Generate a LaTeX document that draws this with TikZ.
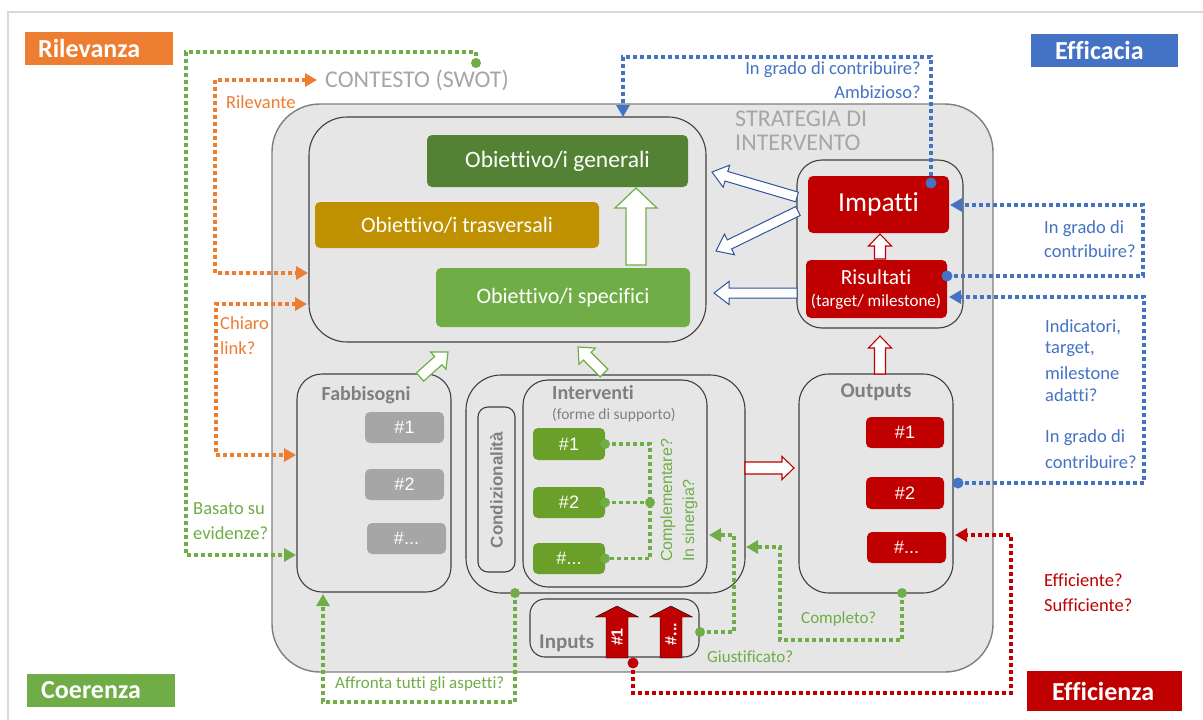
\documentclass[tikz,border=0pt]{standalone}
\usepackage{fontspec}
\setmainfont{Carlito}[Ligatures=NoCommon]
\newfontfamily\arialf{Liberation Sans}
\usetikzlibrary{arrows.meta,calc}
\definecolor{cor}{HTML}{ED7D31}
\definecolor{cbl}{HTML}{4472C4}
\definecolor{cgr}{HTML}{70AD47}
\definecolor{crd}{HTML}{C00000}
\definecolor{cdg}{HTML}{548235}
\definecolor{cgold}{HTML}{BF9000}
\definecolor{cig}{HTML}{6A9F2A}
\definecolor{cbg}{HTML}{E6E6E6}
\definecolor{cbox}{HTML}{A6A6A6}
\definecolor{ctit}{HTML}{7F7F7F}
\definecolor{clt}{HTML}{A6A6A6}
\definecolor{cedge}{HTML}{404040}
\definecolor{cnavy}{HTML}{2F5597}
\definecolor{cframe}{HTML}{D9D9D9}
\newcommand\fsz[1]{\fontsize{#1}{#1}\selectfont}
\newcommand\bx[7]{%
 \pgfmathsetmacro\bxw{#4-#2}\pgfmathsetmacro\bxh{#5-#3}%
 \pgfmathsetmacro\bxx{(#2+#4)/2}\pgfmathsetmacro\bxy{(#3+#5)/2}%
 \node[inner sep=0pt, outer sep=0pt, minimum width=\bxw pt, minimum height=\bxh pt, #6] (#1) at (\bxx,\bxy) {#7};}
\newcommand\barrow[6]{%
 \coordinate (bab) at ($(#3)!#6!(#2)$);
 \draw[#1] ($(#2)!#4!90:(#3)$) -- ($(bab)!#4!90:(#3)$) -- ($(bab)!#5!90:(#3)$) -- (#3) -- ($(bab)!#5!-90:(#3)$) -- ($(bab)!#4!-90:(#3)$) -- ($(#2)!#4!-90:(#3)$) -- cycle;}
\begin{document}
\begin{tikzpicture}[x=1pt,y=-1pt,
 dotl/.style={line width=3.6pt, dash pattern=on 3.6pt off 3.4pt},
 endtip/.style={-{Triangle[length=12pt,width=13pt]}},
 bothtips/.style={{Triangle[length=12pt,width=13pt]}-{Triangle[length=12pt,width=13pt]}},
 cont/.style={draw=cedge, line width=1.1pt},
 cbx/.style={rounded corners=5pt, text=white},
 lab/.style={text=white, font=\bfseries\fsz{26}, inner sep=0pt, anchor=west},
 ann/.style={inner sep=0pt, font=\fsz{18.5}},
 sml/.style={inner sep=0pt, font=\fsz{17}},
 ttl/.style={inner sep=0pt, text=ctit, font=\bfseries\fsz{20}},
 num/.style={font=\arialf\fsz{18}},
]
\useasboundingbox (0,0) rectangle (1203,720);
\fill[white] (0,0) rectangle (1203,720);
\draw[cframe, line width=2pt] (8,720) -- (8,12) -- (1203,12);

% category labels
\bx{ril}{25}{32}{173}{65}{fill=cor}{}
\bx{eff}{1031}{34}{1178}{67}{fill=cbl}{}
\bx{coe}{27}{674}{175}{707}{fill=cgr}{}
\bx{efz}{1027}{671}{1182}{711}{fill=crd}{}
\node[lab] (rilt) at (38,48.5) {Rilevanza};
\node[lab] (efft) at (1055,50.5) {Efficacia};
\node[lab] (coet) at (41,690.5) {Coerenza};
\node[lab] (efzt) at (1052,691) {Efficienza};

% main strategy box
\bx{strat}{272}{104}{993}{672}{draw=ctit, line width=1.4pt, fill=cbg, rounded corners=48pt}{}
\node[inner sep=0pt, anchor=west, text=clt, font=\fsz{24}] (ctx) at (325,80) {CONTESTO (SWOT)};
\node[inner sep=0pt, anchor=west, text=clt, font=\fsz{24}] (st1) at (735,119) {STRATEGIA DI};
\node[inner sep=0pt, anchor=west, text=clt, font=\fsz{24}] (st2) at (735,143) {INTERVENTO};

% objectives
\bx{objc}{309}{117}{706}{342}{cont, rounded corners=38pt}{}
\bx{gen}{427}{135}{688}{187}{fill=cdg, cbx, font=\fsz{23.5}}{Obiettivo/i generali}
\bx{tras}{315}{202}{599}{248}{fill=cgold, cbx, font=\fsz{22}}{Obiettivo/i trasversali}
\bx{spec}{436}{268}{690}{327}{fill=cgr, cbx, font=\fsz{22}}{Obiettivo/i specifici}

% impacts / results
\bx{imc}{797}{160}{963}{328}{cont, rounded corners=25pt}{}
\bx{imp}{808}{176}{949}{233}{fill=crd, cbx, font=\fsz{27.5}}{Impatti}
\bx{ris}{806}{260}{947}{318}{fill=crd, rounded corners=5pt}{}
\node[inner sep=0pt, text=white, font=\fsz{21.5}] (rist1) at (876,277) {Risultati};
\node[inner sep=0pt, text=white, font=\fsz{17}] (rist2) at (876,302) {(target/ milestone)};

% needs
\bx{fab}{297}{374}{451}{592}{cont, rounded corners=25pt}{}
\node[ttl] (fabt) at (366,395) {Fabbisogni};
\bx{f1}{365}{412}{444}{443}{fill=cbox, cbx, num}{\#1}
\bx{f2}{365}{469}{444}{500}{fill=cbox, cbx, num}{\#2}
\bx{f3}{367}{523}{446}{554}{fill=cbox, cbx, num}{\#...}

% interventions
\bx{intc}{466}{375}{745}{593}{cont, rounded corners=35pt}{}
\bx{cond}{478}{407}{515}{572}{cont, rounded corners=10pt}{}
\node[rotate=90, inner sep=0pt, text=ctit, font=\arialf\bfseries\fsz{17}] (condt) at (496.5,490) {Condizionalità};
\bx{intv}{523}{380}{707}{587}{cont, rounded corners=25pt}{}
\node[ttl, anchor=west] (intt) at (552,393) {Interventi};
\node[inner sep=0pt, anchor=west, text=ctit, font=\fsz{15.5}] (intt2) at (552,415) {(forme di supporto)};
\bx{i1}{533}{428}{605}{460}{fill=cig, cbx, num}{\#1}
\bx{i2}{533}{487}{605}{518}{fill=cig, cbx, num}{\#2}
\bx{i3}{533}{543}{605}{574}{fill=cig, cbx, num}{\#...}
\node[rotate=90, anchor=west, inner sep=0pt, text=cgr, font=\arialf\fsz{16}] (compl) at (668,562) {Complementare?};
\node[rotate=90, anchor=west, inner sep=0pt, text=cgr, font=\arialf\fsz{16}] (siner) at (690,562) {In sinergia?};

% inputs
\bx{inp}{530}{599}{699}{657}{cont, rounded corners=15pt}{}
\node[ttl, anchor=west, font=\bfseries\fsz{21}] (inpt) at (539,643) {Inputs};
\coordinate (b1t) at (617,658); \coordinate (b1h) at (617,606);
\coordinate (b2t) at (671,658); \coordinate (b2h) at (671,606);
\barrow{fill=crd}{b1t}{b1h}{11pt}{21.5pt}{11pt}
\barrow{fill=crd}{b2t}{b2h}{11pt}{21.5pt}{11pt}
\node[rotate=90, text=white, inner sep=0pt, font=\arialf\bfseries\fsz{16}] (in1) at (617,637) {\#1};
\node[rotate=90, text=white, inner sep=0pt, font=\arialf\bfseries\fsz{16}] (in2) at (671,634) {\#...};

% outputs
\bx{out}{799}{374}{953}{593}{cont, rounded corners=30pt}{}
\node[ttl, font=\bfseries\fsz{21}] (outt) at (876,392) {Outputs};
\bx{o1}{866}{417}{944}{448}{fill=crd, cbx, num}{\#1}
\bx{o2}{866}{477}{944}{509}{fill=crd, cbx, num}{\#2}
\bx{o3}{867}{532}{946}{563}{fill=crd, cbx, num}{\#...}

% block arrows
\coordinate (a1t) at (636,265); \coordinate (a1h) at (636,188);
\barrow{draw=cgr, fill=white, line width=1.2pt}{a1t}{a1h}{10pt}{21pt}{20pt}
\coordinate (a2t) at (420,377); \coordinate (a2h) at (448,352);
\barrow{draw=cgr, fill=white, line width=1.2pt}{a2t}{a2h}{5.5pt}{11.5pt}{13pt}
\coordinate (a3t) at (604,373); \coordinate (a3h) at (578,347);
\barrow{draw=cgr, fill=white, line width=1.2pt}{a3t}{a3h}{5.5pt}{11.5pt}{13pt}
\coordinate (a4t) at (745,468); \coordinate (a4h) at (794,468);
\barrow{draw=crd, fill=white, line width=1.1pt}{a4t}{a4h}{6pt}{11.5pt}{12pt}
\coordinate (a5t) at (880,259); \coordinate (a5h) at (880,234);
\barrow{draw=crd, fill=white, line width=1.1pt}{a5t}{a5h}{5.5pt}{11.5pt}{12pt}
\coordinate (a6t) at (880,374); \coordinate (a6h) at (880,336);
\barrow{draw=crd, fill=white, line width=1.1pt}{a6t}{a6h}{5.5pt}{11.5pt}{12pt}
\coordinate (a7t) at (797,197); \coordinate (a7h) at (712,172);
\barrow{draw=cnavy, fill=white, line width=1pt}{a7t}{a7h}{5pt}{11.5pt}{15pt}
\coordinate (a8t) at (798,211); \coordinate (a8h) at (716,251);
\barrow{draw=cnavy, fill=white, line width=1pt}{a8t}{a8h}{5pt}{11.5pt}{15pt}
\coordinate (a9t) at (797,293); \coordinate (a9h) at (714,293);
\barrow{draw=cnavy, fill=white, line width=1pt}{a9t}{a9h}{5pt}{11.5pt}{15pt}

% annotations
\node[ann, anchor=west, text=cor] (rlv) at (226,102) {Rilevante};
\node[ann, anchor=west, text=cor] (chi1) at (220,323) {Chiaro};
\node[ann, anchor=west, text=cor] (chi2) at (220,348) {link?};
\node[ann, anchor=west, text=cgr] (bas1) at (193,509) {Basato su};
\node[ann, anchor=west, text=cgr] (bas2) at (193,533) {evidenze?};
\node[sml, anchor=west, text=cgr] (aff) at (335,684) {Affronta tutti gli aspetti?};
\node[sml, anchor=west, text=cgr] (giu) at (707,657) {Giustificato?};
\node[sml, anchor=west, text=cgr] (cmp) at (801,619) {Completo?};
\node[ann, anchor=west, text=crd] (ef1) at (1044,580) {Efficiente?};
\node[ann, anchor=west, text=crd] (ef2) at (1044,605) {Sufficiente?};
\node[ann, anchor=east, text=cbl] (ig1) at (921,70) {In grado di contribuire?};
\node[ann, anchor=east, text=cbl] (amb) at (921,92) {Ambizioso?};
\node[ann, anchor=west, text=cbl] (ig2) at (1044,229) {In grado di};
\node[ann, anchor=west, text=cbl] (ig3) at (1044,251) {contribuire?};
\node[ann, anchor=west, text=cbl] (ind1) at (1045,327) {Indicatori,};
\node[ann, anchor=west, text=cbl] (ind2) at (1045,349) {target,};
\node[ann, anchor=west, text=cbl] (ind3) at (1045,373) {milestone};
\node[ann, anchor=west, text=cbl] (ind4) at (1045,395) {adatti?};
\node[ann, anchor=west, text=cbl] (ind5) at (1045,438) {In grado di};
\node[ann, anchor=west, text=cbl] (ind6) at (1045,462) {contribuire?};

% dotted connectors: green
\coordinate (g1s) at (476,63); \coordinate (g1e) at (296,555);
\draw[dotl, cgr, endtip] (g1s) -- (476,52) -- (186,52) -- (186,555) -- (g1e);
\coordinate (g2s) at (515,593); \coordinate (g2e) at (323,594);
\draw[dotl, cgr, endtip] (g2s) -- (515,702) -- (323,702) -- (g2e);
\draw[dotl, cgr] (i1.east) -- (650,444) -- (650,558.5) -- (i3.east);
\coordinate (g3m) at (650,502.5);
\draw[dotl, cgr] (i2.east) -- (g3m);
\coordinate (g4s) at (700,632); \coordinate (g4e) at (709,535);
\draw[dotl, cgr, endtip] (g4s) -- (734,632) -- (734,535) -- (g4e);
\coordinate (g5s) at (902,593); \coordinate (g5e) at (746,547);
\draw[dotl, cgr, endtip] (g5s) -- (902,640) -- (780,640) -- (780,547) -- (g5e);
\foreach \p in {g1s,g2s,i1.east,i2.east,i3.east,g3m,g4s,g5s} \fill[cgr] (\p) circle (5pt);

% orange
\coordinate (o1a) at (317,80); \coordinate (o1b) at (308,273);
\draw[dotl, cor, bothtips] (o1a) -- (215,80) -- (215,273) -- (o1b);
\coordinate (o2a) at (307,304); \coordinate (o2b) at (296,455);
\draw[dotl, cor, bothtips] (o2a) -- (216,304) -- (216,455) -- (o2b);

% blue
\coordinate (b1s) at (931,183); \coordinate (b1e) at (623,117);
\draw[dotl, cbl, endtip] (b1s) -- (931,57) -- (623,57) -- (b1e);
\coordinate (b2s) at (947,276); \coordinate (b2e) at (950,205);
\draw[dotl, cbl, endtip] (b2s) -- (1143,276) -- (1143,205) -- (b2e);
\coordinate (b3s) at (958,483); \coordinate (b3e) at (949,297);
\draw[dotl, cbl, endtip] (b3s) -- (1144,483) -- (1144,297) -- (b3e);
\foreach \p in {b1s,b2s,b3s} \fill[cbl] (\p) circle (5.5pt);

% red
\coordinate (r1s) at (633,663); \coordinate (r1e) at (955,535);
\draw[dotl, crd, endtip] (r1s) -- (633,693) -- (1011,693) -- (1011,535) -- (r1e);
\fill[crd] (r1s) circle (5.5pt);
\end{tikzpicture}
\end{document}
